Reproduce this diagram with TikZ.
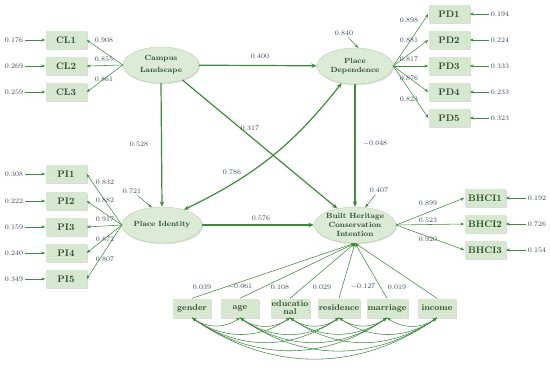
\documentclass[tikz,border=0pt]{standalone}
\usepackage{amsmath}
\usetikzlibrary{arrows.meta,shapes.geometric,shadows}

\begin{document}
\begin{tikzpicture}[
    x=1pt, y=-1pt,
    every node/.style={font=\fontsize{7}{8}\selectfont, text=numtext, inner sep=2pt},
    obs/.style={fill=boxfill, minimum width=41pt, minimum height=18pt, inner sep=1pt,
      font=\fontsize{9.5}{11}\selectfont\bfseries, text=labtext,
      drop shadow={shadow xshift=1.2pt, shadow yshift=-1.2pt, fill=black!28}},
    ctrl/.style={obs, minimum width=38pt, minimum height=19pt, align=center,
      font=\fontsize{8.5}{8}\selectfont\bfseries},
    lat/.style={ellipse, draw=latedge, line width=0.4pt, fill=latfill, minimum width=76pt,
      minimum height=36pt, inner sep=0pt, align=center, text=labtext,
      font=\fontsize{7.5}{9}\selectfont\bfseries,
      drop shadow={shadow xshift=1.2pt, shadow yshift=-1.2pt, fill=black!25}},
    loadpath/.style={pathgreen, line width=0.55pt, -{Stealth[length=4pt, width=3pt]}},
    strucpath/.style={pathgreen, line width=1.2pt, -{Stealth[length=5.5pt, width=4.5pt]}},
    covpath/.style={pathgreen, line width=0.55pt,
      {Stealth[length=4pt, width=3pt]}-{Stealth[length=4pt, width=3pt]}},
  ]
    \definecolor{boxfill}{HTML}{D6E8CF}
    \definecolor{latfill}{HTML}{DCEBD5}
    \definecolor{latedge}{HTML}{B8CFB0}
    \definecolor{pathgreen}{HTML}{3F8A3F}
    \definecolor{labtext}{HTML}{2A4A2A}
    \definecolor{numtext}{HTML}{3A4654}

    \useasboundingbox (0,0) rectangle (550,367);

    % ============ latent constructs ============
    \node[lat] (cl) at (161,65) {Campus\\[3pt]Landscape};
    \node[lat] (pd) at (355,66) {Place\\Dependence};
    \node[lat] (pi) at (162,225) {Place Identity};
    \node[lat] (bhci) at (355,225) {Built Heritage\\Conservation\\Intention};

    % ============ campus landscape items ============
    \foreach \n/\y/\ly/\ld/\er in {1/40/40/0.908/0.176, 2/66/59/0.855/0.269, 3/92/79/0.861/0.259}{
      \node[obs] (cl\n) at (66,\y) {CL\n};
      \node (ecl\n) at (14,\y) {\er};
      \node (lcl\n) at (104,\ly) {\ld};
      \draw[loadpath] (ecl\n) -- (cl\n);
      \draw[loadpath] (cl.west) -- (cl\n.east);
    }

    % ============ place dependence items ============
    \foreach \n/\y/\ly/\ld/\er in {1/14/20/0.898/0.194, 2/40/40/0.881/0.224, 3/66/59/0.817/0.333,
        4/92/78/0.876/0.233, 5/118/99/0.823/0.323}{
      \node[obs] (pd\n) at (449,\y) {PD\n};
      \node (epd\n) at (500,\y) {\er};
      \node (lpd\n) at (409,\ly) {\ld};
      \draw[loadpath] (epd\n) -- (pd\n);
      \draw[loadpath] (pd.east) -- (pd\n.west);
    }

    % ============ place identity items ============
    \foreach \n/\y/\ly/\ld/\er in {1/174/182/0.832/0.308, 2/201/200/0.882/0.222, 3/227/219/0.917/0.159,
        4/253/239/0.872/0.240, 5/279/259/0.807/0.349}{
      \node[obs] (pi\n) at (66,\y) {PI\n};
      \node (epi\n) at (14,\y) {\er};
      \node (lpi\n) at (105,\ly) {\ld};
      \draw[loadpath] (epi\n) -- (pi\n);
      \draw[loadpath] (pi.west) -- (pi\n.east);
    }

    % ============ conservation intention items ============
    \foreach \n/\y/\ly/\ld/\er in {1/198/203/0.899/0.192, 2/224/220/0.523/0.726, 3/250/239/0.920/0.154}{
      \node[obs] (bhci\n) at (485,\y) {BHCI\n};
      \node (ebhci\n) at (537,\y) {\er};
      \node (lbhci\n) at (428,\ly) {\ld};
      \draw[loadpath] (ebhci\n) -- (bhci\n);
      \draw[loadpath] (bhci.east) -- (bhci\n.west);
    }

    % ============ residuals ============
    \node (rpd) at (344,33) {0.840};
    \draw[loadpath] (rpd) -- (pd.80);
    \node (rpi) at (132,191) {0.721};
    \draw[loadpath] (rpi) -- (pi.120);
    \node (rbhci) at (379,190) {0.407};
    \draw[loadpath] (rbhci) -- (bhci.60);

    % ============ structural paths ============
    \draw[strucpath] (cl) -- (pd);
    \node (scp) at (260,56) {0.400};
    \draw[strucpath] (cl.south) -- (pi.north);
    \node (sci) at (139,144) {0.528};
    \draw[strucpath] (cl.-35) -- (bhci.137);
    \node (scb) at (250,128) {0.317};
    \draw[strucpath] (pd.south) -- (bhci.north);
    \node (spb) at (375,144) {$-$0.048};
    \draw[strucpath] (pi) -- (bhci);
    \node (sib) at (261,218) {0.576};
    \draw[strucpath, {Stealth[length=5.5pt, width=4.5pt]}-{Stealth[length=5.5pt, width=4.5pt]}]
      (pi.35) to[bend right=13] (pd.232);
    \node (sip) at (232,172) {0.786};

    % ============ control variables ============
    \foreach \n/\x/\lx/\ld/\txt in {gen/192/202/0.039/gender, age/240/240/$-$0.061/age,
        edu/290/280/0.108/{educatio\\nal}, res/339/322/0.029/residence,
        mar/387/363/$-$0.127/marriage, inc/437/397/0.019/income}{
      \node[ctrl] (\n) at (\x,308) {\txt};
      \node (l\n) at (\lx,287) {\ld};
      \draw[loadpath] (\n.north) -- (bhci.south);
    }
    \foreach \a/\b in {gen/age, gen/edu, gen/res, gen/mar, gen/inc, age/edu, age/res, age/mar,
        age/inc, edu/res, edu/mar, edu/inc, res/mar, res/inc, mar/inc}
      \draw[covpath] (\a.south) to[bend right=35] (\b.south);
  \end{tikzpicture}
\end{document}
